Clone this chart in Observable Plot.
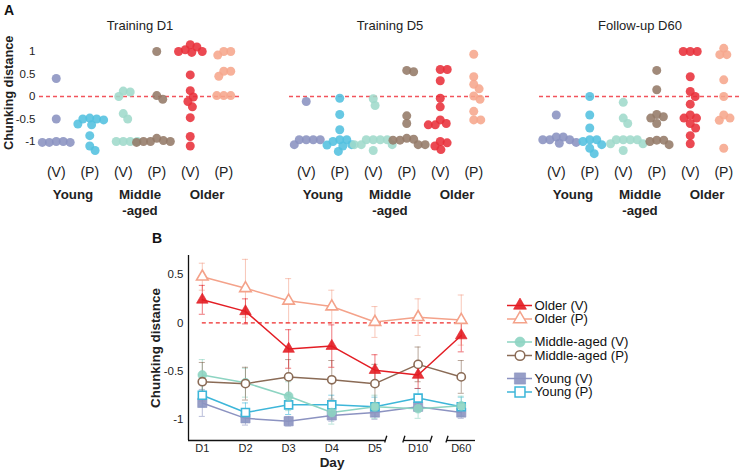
<!DOCTYPE html>
<html><head><meta charset="utf-8">
<script src="https://cdn.jsdelivr.net/npm/d3@7"></script>
<script src="https://cdn.jsdelivr.net/npm/@observablehq/plot@0.6"></script>
<style>
body{margin:0;background:#fff;font-family:"Liberation Sans",Arial,sans-serif;}
#root{position:relative;width:740px;height:471px;overflow:hidden;background:#fff;}
.lab{position:absolute;font-weight:bold;font-size:14px;line-height:1;color:#111;}
#root svg{overflow:visible;}
</style></head><body>
<div id="root">
<div id="pa" style="position:absolute;left:0;top:0"></div>
<div id="pb" style="position:absolute;left:0;top:230px"></div>
<div id="lg" style="position:absolute;left:500px;top:290px"></div>
<div class="lab" style="left:4px;top:3px">A</div>
<div class="lab" style="left:152px;top:231px">B</div>
</div>
<script>
// ---------- Panel A data ----------
const panels = ["Training D1", "Training D5", "Follow-up D60"];
const cats = ["YV", "YP", "MV", "MP", "OV", "OP"];
const catTicks = ["(V)", "(P)", "(V)", "(P)", "(V)", "(P)"];
const groupNames = ["Young", "Middle\n-aged", "Older"];
const catColors = ["#8a92c0", "#52c0df", "#9fdacb", "#947a68", "#e8303a", "#f6a68c"];

const d1YoungV = [0.4, -0.5, -1, -1, -1.02, -1.02, -1.02];
const d1YoungP = [-0.5, -0.61, -0.48, -0.63, -0.52, -0.5, -0.87, -1.1, -1.2];
const d1MiddleV = [0.12, 0.1, 0.0, -0.38, -0.5, -1, -1, -1, -1];
const d1MiddleP = [1.0, 0.02, -0.06, -0.93, -0.98, -1, -1.02, -1, -1];
const d1OlderV = [1.15, 1.1, 1.04, 1.0, 1.0, 0.98, 0.48, 0.13, -0.01, -0.11, -0.23, -0.47, -0.89, -1.1];
const d1OlderP = [1.0, 1.0, 0.92, 0.56, 0.56, 0.45, 0.02, 0.02, 0.02];

const d5YoungV = [-0.11, -0.96, -0.96, -0.96, -0.96, -1.07];
const d5YoungP = [-0.04, -0.4, -0.74, -0.96, -0.96, -1.0, -1.08, -1.1, -1.07, -1.22];
const d5MiddleV = [-0.05, -0.2, -0.96, -0.96, -0.96, -0.96, -1.07, -1.07, -1.07, -1.2];
const d5MiddleP = [0.58, 0.55, -0.43, -0.6, -0.95, -0.93, -0.97, -0.97, -1.07, -1.07];
const d5OlderV = [0.6, 0.6, 0.35, -0.04, -0.23, -0.52, -0.6, -0.63, -0.63, -1.0, -1.03, -1.1, -1.18];
const d5OlderP = [0.94, 0.44, 0.27, 0.17, 0.01, -0.06, -0.33, -0.52, -0.52];

const d60YoungV = [-0.41, -0.9, -0.9, -0.96, -0.96, -0.96, -1.02, -1.04];
const d60YoungP = [0, -0.41, -0.7, -0.96, -0.96, -1.0, -1.07, -1.15, -1.27];
const d60MiddleV = [-0.13, -0.48, -0.6, -0.96, -0.96, -0.96, -0.96, -1.05, -1.05, -1.2];
const d60MiddleP = [0.58, 0.15, -0.4, -0.45, -0.48, -0.6, -0.97, -0.97, -1.0, -1.07];
const d60OlderV = [1, 1, 1, 0.44, 0.11, 0, -0.17, -0.41, -0.48, -0.48, -0.6, -0.7, -0.87, -1.05];
const d60OlderP = [1.07, 0.93, 0.93, 0.37, 0, -0.41, -0.48, -0.53, -1.15];

// ---------- Panel B data ----------
const days = ["D1", "D2", "D3", "D4", "D5", "D10", "D60"];
const olderV = [0.24, 0.12, -0.27, -0.24, -0.49, -0.54, -0.13];
const olderVErr = [0.15, 0.13, 0.2, 0.22, 0.16, 0.14, 0.17];
const olderP = [0.48, 0.36, 0.23, 0.17, 0.01, 0.06, 0.03];
const olderPErr = [0.14, 0.3, 0.23, 0.17, 0.16, 0.19, 0.26];
const middleV = [-0.54, -0.62, -0.76, -0.93, -0.87, -0.89, -0.86];
const middleVErr = [0.16, 0.15, 0.15, 0.12, 0.12, 0.1, 0.1];
const middleP = [-0.61, -0.63, -0.56, -0.59, -0.63, -0.43, -0.56];
const middlePErr = [0.2, 0.17, 0.18, 0.2, 0.2, 0.18, 0.17];
const youngV = [-0.83, -0.99, -1.02, -0.96, -0.93, -0.87, -0.93];
const youngVErr = [0.14, 0.07, 0.05, 0.06, 0.07, 0.05, 0.06];
const youngP = [-0.75, -0.93, -0.85, -0.85, -0.87, -0.78, -0.87];
const youngPErr = [0.12, 0.1, 0.1, 0.1, 0.1, 0.1, 0.1];
const seriesNames = ["Older (V)", "Older (P)", "Middle-aged (V)", "Middle-aged (P)", "Young (V)", "Young (P)"];
const seriesColors = ["#e31d24", "#f4a28a", "#8dd4c2", "#8a6b56", "#8c93c1", "#3db6d9"];

const FONT = '"Liberation Sans", Arial, Helvetica, sans-serif';

// ---------- beeswarm layout (pixel based) ----------
const PX_PER_Y = 45, PX_PER_X = 33.5, DIAM = 7;
function swarm(values) {
  const placed = [];
  const sorted = values.slice().sort((a, b) => b - a);
  for (const v of sorted) {
    const y = v * PX_PER_Y;
    const cands = [0];
    for (const q of placed) {
      const dy = Math.abs(q.y - y);
      if (dy < DIAM) { const w = Math.sqrt(DIAM * DIAM - dy * dy); cands.push(q.x + w, q.x - w); }
    }
    cands.sort((a, b) => Math.abs(a) - Math.abs(b) || b - a);
    for (const c of cands) {
      if (placed.every(q => (q.x - c) ** 2 + (q.y - y) ** 2 >= DIAM * DIAM - 1e-6)) { placed.push({x: c, y, v}); break; }
    }
  }
  return placed;
}
const panelData = [
  [d1YoungV, d1YoungP, d1MiddleV, d1MiddleP, d1OlderV, d1OlderP],
  [d5YoungV, d5YoungP, d5MiddleV, d5MiddleP, d5OlderV, d5OlderP],
  [d60YoungV, d60YoungP, d60MiddleV, d60MiddleP, d60OlderV, d60OlderP]
];
const rowsA = [];
panelData.forEach((arrs, pi) => arrs.forEach((vals, ci) => {
  swarm(vals).forEach(p => rowsA.push({panel: panels[pi], cat: cats[ci], v: p.v, x: ci + p.x / PX_PER_X}));
}));
const groupRows = panels.flatMap(p => groupNames.map((g, gi) => ({panel: p, name: g, x: gi * 2 + 0.5})));

const plotA = Plot.plot({
  width: 740, height: 220, marginLeft: 39, marginRight: 0, marginTop: 42, marginBottom: 65.5,
  style: {fontFamily: FONT, color: "#222", background: "transparent", overflow: "visible"},
  fx: {domain: panels, paddingInner: 0.196, paddingOuter: 0, axis: null, label: null},
  x: {domain: [-0.5, 5.5]},
  y: {domain: [-1.3, 1.2]},
  color: {domain: cats, range: catColors},
  marks: [
    Plot.ruleY([0], {stroke: "#f2545c", strokeDasharray: "4,3", strokeWidth: 1.3}),
    Plot.dot(rowsA, {fx: "panel", x: "x", y: "v", r: 4.5, fill: "cat", fillOpacity: 0.88, stroke: null}),
    Plot.axisY({ticks: [1, 0.5, 0, -0.5, -1], tickFormat: d => String(d), tickSize: 0, tickPadding: 4, fontSize: 11.5, label: null}),
    Plot.axisX({ticks: [0, 1, 2, 3, 4, 5], tickFormat: i => catTicks[i], tickSize: 0, tickPadding: 12, fontSize: 14, label: null}),
    Plot.text(panels, {fx: d => d, frameAnchor: "top", dy: -17, text: d => d, fontSize: 13, lineAnchor: "middle"}),
    Plot.text(groupRows, {fx: "panel", x: "x", frameAnchor: "bottom", dy: 32.8, text: "name", fontWeight: "bold", fontSize: 13.3, lineAnchor: "top", lineHeight: 1.2}),
    Plot.text([panels[0]], {fx: d => d, frameAnchor: "left", textAnchor: "middle", lineAnchor: "middle", dx: -31, dy: -6, rotate: -90, text: () => "Chunking distance", fontWeight: "bold", fontSize: 12.8})
  ]
});
document.getElementById("pa").append(plotA);

// ---------- Panel B ----------
const seriesVals = [olderV, olderP, middleV, middleP, youngV, youngP];
const seriesErr = [olderVErr, olderPErr, middleVErr, middlePErr, youngVErr, youngPErr];
const seriesSymbol = ["triangle", "triangle", "circle", "circle", "square", "square"];
const seriesFilled = [true, false, true, false, true, false];
const seriesR = [4.3, 4.3, 4.4, 4.1, 5.2, 4.5];
const drawOrder = [4, 5, 2, 3, 1, 0];
const X_MIN = -0.32, X_MAX = 6.33, Y_MIN = -1.22, Y_MAX = 0.7;
const axisSegs = [{a: X_MIN, b: 4 + 0.25}, {a: 5 - 0.33, b: 5 + 0.3}, {a: 6 - 0.33, b: X_MAX}];
const breakTicks = [4 + 0.25, 5 - 0.33, 5 + 0.3, 6 - 0.33];

const marksB = [];
const rowsFor = k => seriesVals[k].map((v, i) => ({i, v, e: seriesErr[k][i]}));
for (const k of drawOrder) {
  const rows = rowsFor(k), c = seriesColors[k];
  marksB.push(
    Plot.ruleX(rows, {x: "i", y1: d => d.v - d.e, y2: d => d.v + d.e, stroke: c, strokeOpacity: 0.6, strokeWidth: 1}),
    Plot.ruleY(rows, {y: d => d.v + d.e, x1: d => d.i - 0.07, x2: d => d.i + 0.07, stroke: c, strokeOpacity: 0.6, strokeWidth: 1}),
    Plot.ruleY(rows, {y: d => d.v - d.e, x1: d => d.i - 0.07, x2: d => d.i + 0.07, stroke: c, strokeOpacity: 0.6, strokeWidth: 1})
  );
}
marksB.push(Plot.ruleY([0], {x1: 0, x2: 6, stroke: "#ee2a2a", strokeDasharray: "4,3", strokeWidth: 1.3}));
for (const k of drawOrder) {
  const rows = rowsFor(k), c = seriesColors[k];
  marksB.push(Plot.line(rows, {x: "i", y: "v", stroke: c, strokeWidth: 1.5}));
}
for (const k of drawOrder) {
  const rows = rowsFor(k), c = seriesColors[k];
  marksB.push(Plot.dot(rows, {x: "i", y: "v", symbol: seriesSymbol[k], r: seriesR[k],
    fill: seriesFilled[k] ? c : "white", fillOpacity: seriesFilled[k] ? 0.9 : 1,
    stroke: c, strokeWidth: seriesFilled[k] ? 0.6 : 1.6}));
}
marksB.push(
  Plot.ruleX([X_MIN], {stroke: "#111", strokeWidth: 1.3}),
  Plot.ruleY(axisSegs, {y: Y_MIN, x1: "a", x2: "b", stroke: "#111", strokeWidth: 1.3}),
  Plot.link(breakTicks, {x1: d => d - 0.025, y1: Y_MIN - 0.02, x2: d => d + 0.025, y2: Y_MIN + 0.05, stroke: "#111", strokeWidth: 1.3}),
  Plot.axisY({ticks: [0.5, 0, -0.5, -1], tickFormat: d => String(d), tickSize: 0, tickPadding: 5, fontSize: 11.5, label: null}),
  Plot.axisX({ticks: days.map((d, i) => i), tickFormat: i => days[i], tickSize: 0, tickPadding: 4, fontSize: 11, label: null}),
  Plot.text(["Chunking distance"], {frameAnchor: "left", textAnchor: "middle", lineAnchor: "middle", dx: -33, rotate: -90, text: d => d, fontWeight: "bold", fontSize: 13.4}),
  Plot.text(["Day"], {frameAnchor: "bottom", dy: 26.5, text: d => d, fontWeight: "bold", fontSize: 13.5})
);
const plotB = Plot.plot({
  width: 480, height: 241, marginLeft: 188, marginRight: 5, marginTop: 25, marginBottom: 31,
  style: {fontFamily: FONT, color: "#222", background: "transparent", overflow: "visible"},
  x: {domain: [X_MIN, X_MAX]},
  y: {domain: [Y_MIN, Y_MAX]},
  marks: marksB
});
document.getElementById("pb").append(plotB);

// ---------- Legend ----------
const legendRows = seriesNames.map((n, k) => ({k, name: n, y: k * 13.5 + Math.floor(k / 2) * 9.5}));
const marksL = [];
for (const d of legendRows) {
  const k = d.k, c = seriesColors[k];
  marksL.push(
    Plot.ruleY([d], {y: "y", x1: 0, x2: 25, stroke: c, strokeWidth: 1.5}),
    Plot.dot([d], {x: 12.5, y: "y", symbol: seriesSymbol[k], r: [4.8, 4.8, 5, 4.8, 6.3, 5.6][k],
      fill: seriesFilled[k] ? c : "white", fillOpacity: seriesFilled[k] ? 0.9 : 1, stroke: c, strokeWidth: seriesFilled[k] ? 0.6 : 1.5}),
    Plot.text([d], {x: 25, y: "y", dx: 2, text: "name", textAnchor: "start", fontSize: 13.2, fill: "#111"})
  );
}
const plotL = Plot.plot({
  width: 140, height: 112, marginLeft: 7, marginRight: 108, marginTop: 15, marginBottom: 10.5,
  style: {fontFamily: FONT, color: "#222", background: "transparent", overflow: "visible"},
  x: {domain: [0, 25], axis: null},
  y: {domain: [86.5, 0], axis: null},
  marks: marksL
});
document.getElementById("lg").append(plotL);
</script>
</body></html>
